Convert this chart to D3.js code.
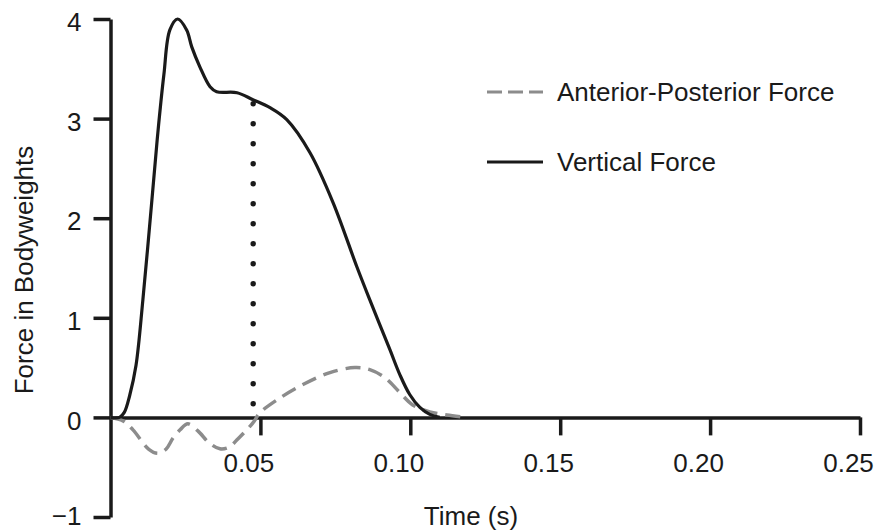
<!DOCTYPE html>
<html>
<head>
<meta charset="utf-8">
<script src="https://cdn.jsdelivr.net/npm/d3@7"></script>
<style>
  html, body { margin: 0; padding: 0; background: #fff; }
  text { font-family: "Liberation Sans", Arial, Helvetica, sans-serif; fill: #1a1a1a; }
</style>
</head>
<body>
<svg id="chart" width="877" height="531"></svg>
<script>
// ---- data ----
const verticalTime  = [0, 0.003, 0.0046, 0.0064, 0.0085, 0.0108, 0.0138, 0.0158, 0.0178, 0.0198, 0.0224, 0.0254, 0.0271, 0.0298, 0.0332, 0.0354, 0.0422, 0.0475, 0.0532, 0.0588, 0.0665, 0.0742, 0.0822, 0.0865, 0.0932, 0.0965, 0.0998, 0.1032, 0.1065, 0.1098];
const verticalForce = [0, 0, 0.05, 0.22, 0.52, 1.18, 2.18, 2.86, 3.44, 3.89, 4.0, 3.89, 3.72, 3.52, 3.32, 3.27, 3.26, 3.19, 3.11, 2.99, 2.66, 2.16, 1.51, 1.18, 0.68, 0.43, 0.23, 0.10, 0.03, 0];

const apTime  = [0, 0.0042, 0.0075, 0.0128, 0.0158, 0.0185, 0.0208, 0.0232, 0.0258, 0.0298, 0.0325, 0.0365, 0.0398, 0.0422, 0.0475, 0.0498, 0.0555, 0.0642, 0.0732, 0.0815, 0.0865, 0.0915, 0.0965, 0.1008, 0.1065, 0.1122, 0.1188];
const apForce = [0, -0.035, -0.125, -0.32, -0.36, -0.32, -0.21, -0.125, -0.065, -0.155, -0.245, -0.315, -0.295, -0.225, -0.055, 0.045, 0.175, 0.33, 0.45, 0.50, 0.48, 0.40, 0.25, 0.125, 0.055, 0.025, 0];

const markerTime = 0.0476;
const markerRange = [0.12, 3.15];

const xTicks = [0.05, 0.10, 0.15, 0.20, 0.25];
const yTicks = [-1, 0, 1, 2, 3, 4];
const seriesNames = ["Anterior-Posterior Force", "Vertical Force"];
const xTitle = "Time (s)";
const yTitle = "Force in Bodyweights";

// ---- drawing ----
const svg = d3.select("#chart");
const x = d3.scaleLinear().domain([0, 0.25]).range([110.5, 860]);
const y = d3.scaleLinear().domain([-1, 4]).range([517, 19]);
const ink = "#1a1a1a";
const grey = "#8c8c8c";

// y axis
const yAxis = svg.append("g").attr("transform", `translate(${x(0)},0)`)
  .call(d3.axisLeft(y).tickValues(yTicks).tickSize(17).tickSizeOuter(0).tickPadding(12)
    .tickFormat(d => d < 0 ? "\u2212" + Math.abs(d) : String(d)));
yAxis.select(".domain").attr("stroke", ink).attr("stroke-width", 3.5);
yAxis.selectAll(".tick line").attr("stroke", ink).attr("stroke-width", 3.5);
yAxis.selectAll(".tick text").attr("font-size", 26)
  .attr("dy", d => d < 0 ? "0.3em" : "0.45em").style("fill", ink);
yAxis.attr("font-family", null).attr("font-size", null);

// x axis
const xAxis = svg.append("g").attr("transform", `translate(0,${y(0)})`)
  .call(d3.axisBottom(x).tickValues(xTicks).tickSize(18).tickSizeOuter(0).tickPadding(18)
    .tickFormat(d3.format(".2f")));
xAxis.select(".domain").attr("stroke", ink).attr("stroke-width", 3.5);
xAxis.selectAll(".tick line").attr("stroke", ink).attr("stroke-width", 3.5);
xAxis.selectAll(".tick text").attr("font-size", 26).attr("dx", -12).style("fill", ink);
xAxis.attr("font-family", null).attr("font-size", null);

// titles
svg.append("text").attr("x", 471).attr("y", 525).attr("text-anchor", "middle")
  .attr("font-size", 26).text(xTitle);
svg.append("text").attr("transform", "translate(33,270) rotate(-90)").attr("text-anchor", "middle")
  .attr("font-size", 26).text(yTitle);

// dotted marker
svg.append("line")
  .attr("x1", x(markerTime)).attr("x2", x(markerTime))
  .attr("y1", y(markerRange[1])).attr("y2", y(markerRange[0]))
  .attr("stroke", ink).attr("stroke-width", 5.5).attr("stroke-linecap", "round")
  .attr("stroke-dasharray", "0,20");

const line = d3.line().x(d => x(d[0])).y(d => y(d[1])).curve(d3.curveCatmullRom.alpha(0.5));

// AP force (dashed grey)
svg.append("path").datum(d3.zip(apTime, apForce))
  .attr("d", line).attr("fill", "none").attr("stroke", grey).attr("stroke-width", 3.5)
  .attr("stroke-dasharray", "15,8");

// vertical force (solid black)
svg.append("path").datum(d3.zip(verticalTime, verticalForce))
  .attr("d", line).attr("fill", "none").attr("stroke", ink).attr("stroke-width", 3.2);

// legend
const legend = svg.append("g");
const legY = [92, 162];
const legStyles = [{ stroke: grey, dash: "15,6" }, { stroke: ink, dash: null }];
seriesNames.forEach((name, i) => {
  legend.append("line").attr("x1", 487).attr("x2", 543).attr("y1", legY[i]).attr("y2", legY[i])
    .attr("stroke", legStyles[i].stroke).attr("stroke-width", 3.2)
    .attr("stroke-dasharray", legStyles[i].dash);
  legend.append("text").attr("x", 557).attr("y", legY[i] + 9).attr("font-size", 26).text(name);
});
</script>
</body>
</html>
